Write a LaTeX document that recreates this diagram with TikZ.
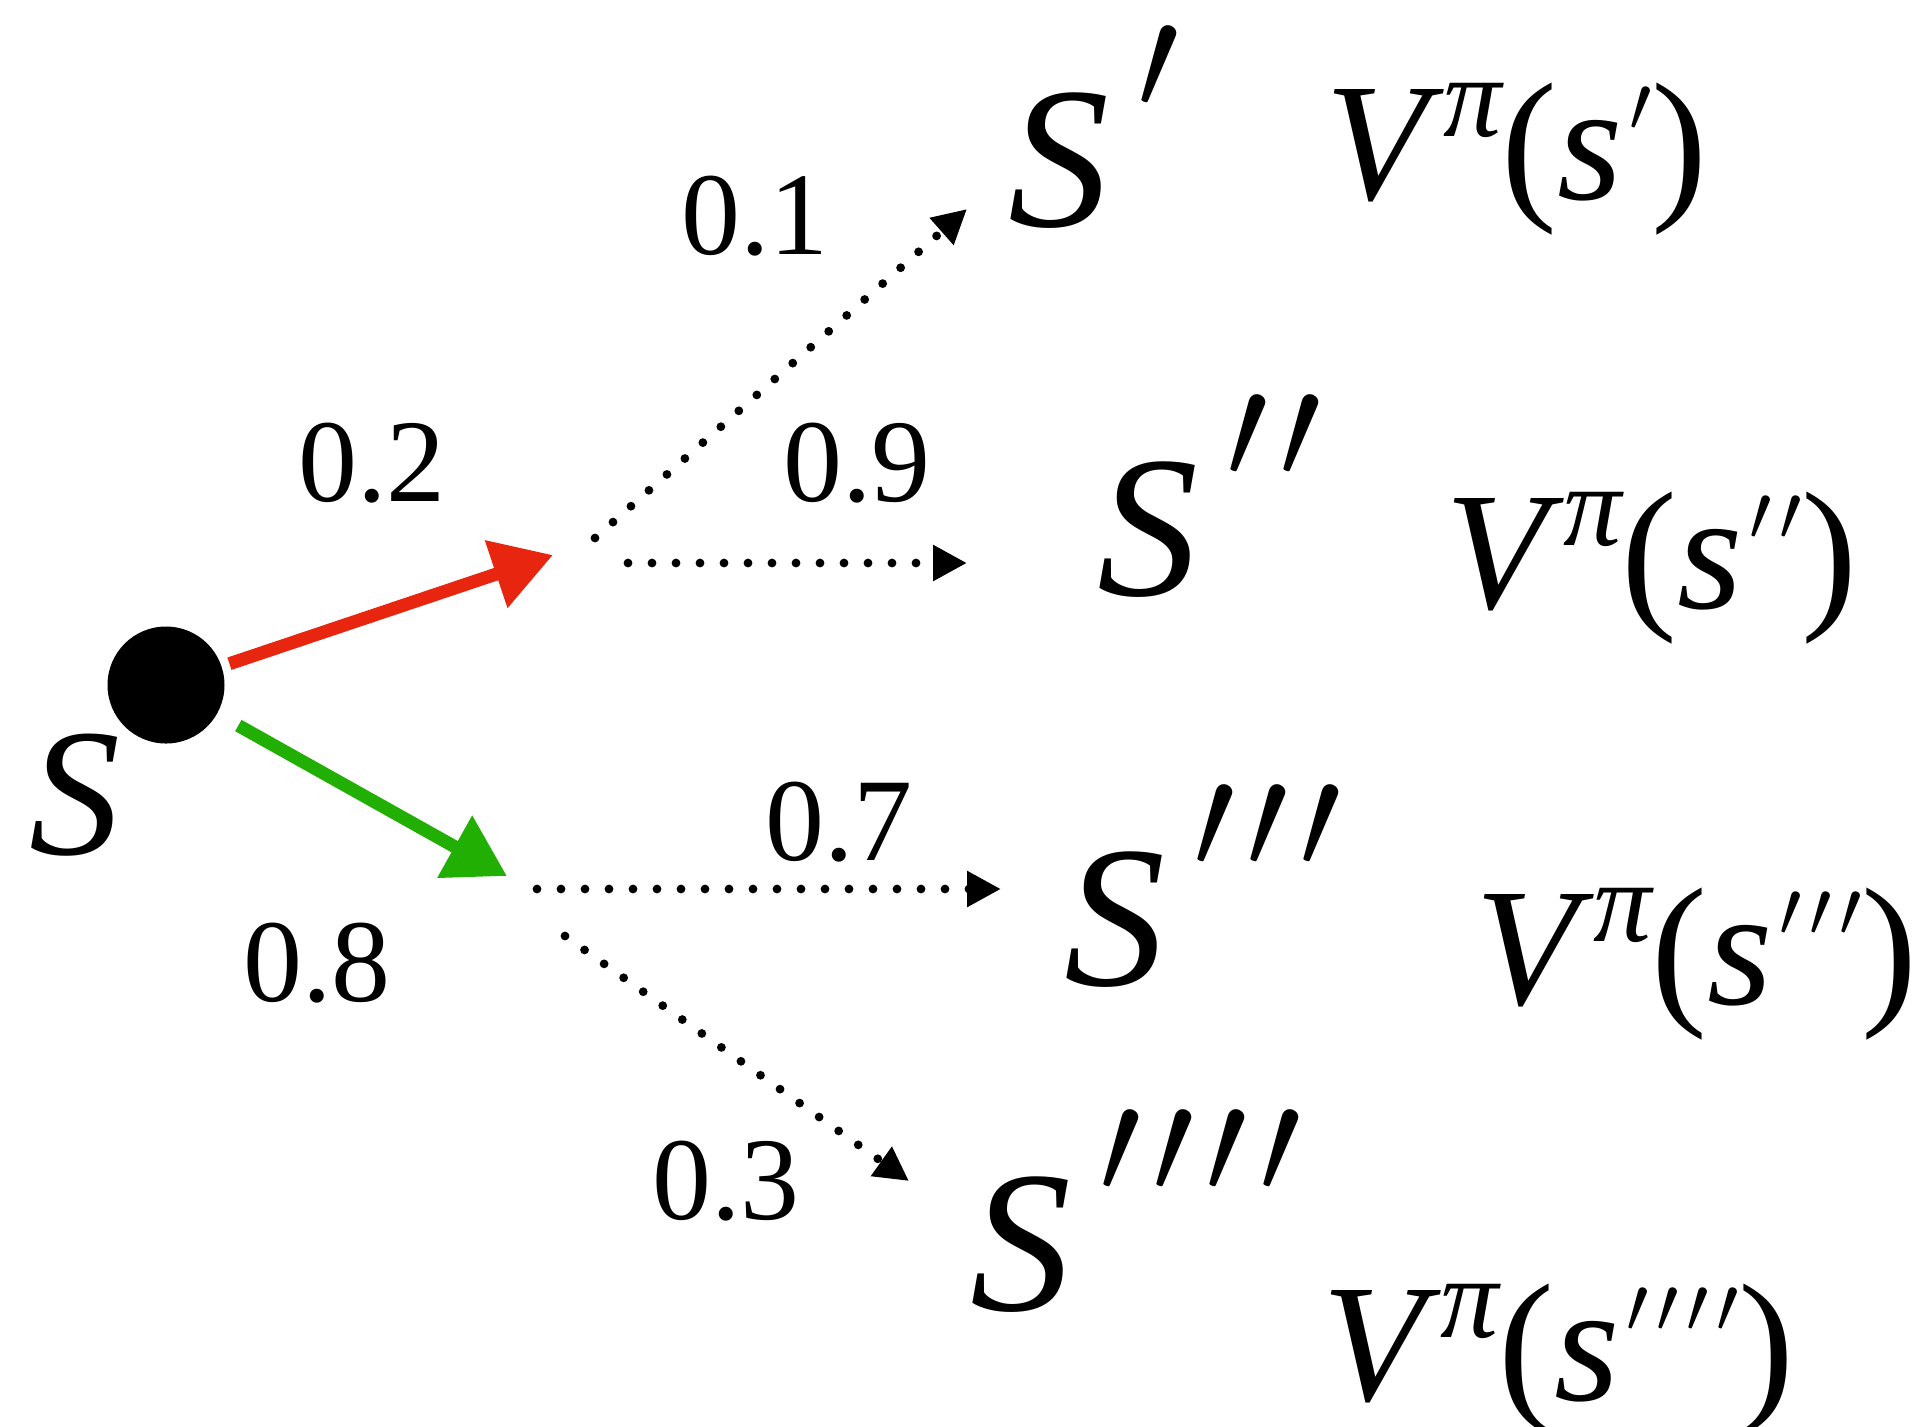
\RequirePackage{fix-cm}
\documentclass[tikz,border=0pt]{standalone}
\usepackage{fontspec}
\setmainfont{Liberation Serif}
\usetikzlibrary{arrows.meta}
\definecolor{chalkred}{HTML}{E8260F}
\definecolor{chalkgreen}{HTML}{22AF04}
\newcommand{\pr}{\ensuremath{\prime}}
\newcommand{\Sfnt}{\fontsize{101}{110}\selectfont\itshape}
\newcommand{\Szfnt}{\fontsize{91}{99}\selectfont\itshape}
\newcommand{\Vfnt}{\fontsize{84}{92}\selectfont}
\newcommand{\Dfnt}{\fontsize{59}{64}\selectfont}
\newcommand{\Sprm}[1]{S\kern0.14em\smash{\raisebox{0.575em}{\fontsize{75}{75}\selectfont\upshape #1}}}
\newcommand{\bp}{\pr\kern6pt}
\newcommand{\vp}{\pr\kern4pt}
\newcommand{\Vlab}[1]{\textit{V}\raisebox{0.37em}{\fontsize{58}{58}\selectfont\itshape π}(\textit{s}\kern0.04em\raisebox{0.4em}{\fontsize{40}{40}\selectfont #1})}
\begin{document}
\begin{tikzpicture}[x=0.5pt,y=-0.5pt,
  lab/.style={inner sep=0pt, outer sep=0pt, anchor=base west},
  slab/.style={lab, font=\Sfnt},
  vlab/.style={lab, font=\Vfnt},
  dlab/.style={lab, font=\Dfnt},
  chalk/.style={line width=6.5pt, -{Triangle[length=30pt,width=34pt]}},
  dots/.style={line width=4.4pt, line cap=round, dash pattern=on 0pt off 12pt, -{Triangle[length=17pt,width=17pt]}}]
\useasboundingbox (0,0) rectangle (1926,1426);
% start state
\node[circle, fill=black, minimum size=58.5pt, inner sep=0pt] (s0) at (166,685) {};
\node[lab, font=\Szfnt] (S0) at (29,854) {S};
% action arrows
\coordinate (rtip) at (553,555);
\coordinate (gtip) at (507,876);
\draw[chalk, chalkred, shorten <=4pt] (s0) -- (rtip);
\draw[chalk, chalkgreen, shorten <=12pt] (s0) -- (gtip);
\node[dlab] (p2) at (298,501) {0.2};
\node[dlab] (p8) at (243,1001) {0.8};
% transitions
\coordinate (d1a) at (595,538); \coordinate (d1b) at (967,209);
\coordinate (d2a) at (628,563); \coordinate (d2b) at (967,563);
\coordinate (d3a) at (537,889); \coordinate (d3b) at (1001,889);
\coordinate (d4a) at (565,936); \coordinate (d4b) at (909,1181);
\draw[dots] (d1a) -- (d1b);
\draw[dots] (d2a) -- (d2b);
\draw[dots] (d3a) -- (d3b);
\draw[dots] (d4a) -- (d4b);
\node[dlab] (p1) at (681,254) {0.1};
\node[dlab] (p9) at (783,501) {0.9};
\node[dlab] (p7) at (765,860) {0.7};
\node[dlab] (p3) at (652,1219) {0.3};
% successor states
\node[slab] (S1) at (1008,226) {\Sprm{\pr}};
\node[slab] (S2) at (1097,595) {\Sprm{\bp\pr}};
\node[slab] (S3) at (1064,985) {\Sprm{\bp\bp\pr}};
\node[slab] (S4) at (970,1310) {\Sprm{\bp\bp\bp\pr}};
% values
\node[vlab] (V1) at (1325,199) {\Vlab{\pr}};
\node[vlab] (V2) at (1445,608) {\Vlab{\vp\pr}};
\node[vlab] (V3) at (1475,1004) {\Vlab{\vp\vp\pr}};
\node[vlab] (V4) at (1322,1400) {\Vlab{\vp\vp\vp\pr}};
\end{tikzpicture}
\end{document}
